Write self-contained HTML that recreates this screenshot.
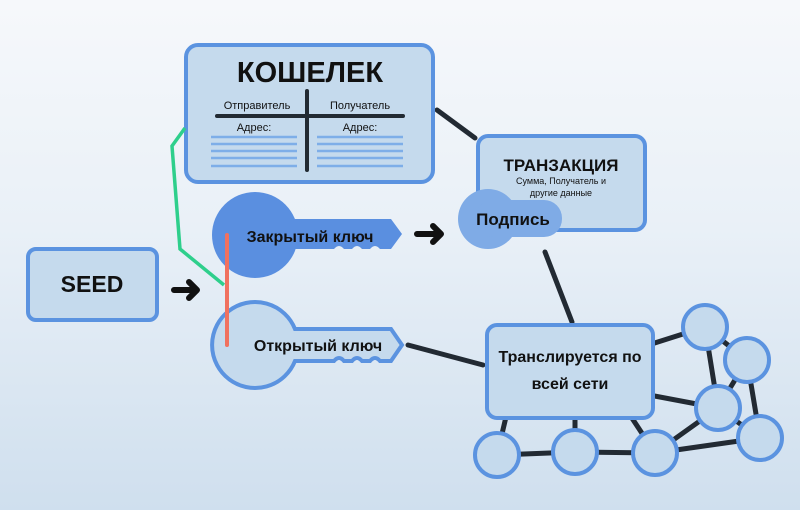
<!DOCTYPE html>
<html><head><meta charset="utf-8"><style>
html,body{margin:0;padding:0;width:800px;height:510px;overflow:hidden}
body{background:linear-gradient(#f6f8fb 0%,#e9f0f7 45%,#cfdfee 100%)}
svg text{font-family:"Liberation Sans","Noto Sans CJK SC",sans-serif;fill:#111}
</style></head><body>
<svg width="800" height="510" viewBox="0 0 800 510" xmlns="http://www.w3.org/2000/svg">
<g stroke="#222a33" stroke-width="5" stroke-linecap="round">
<line x1="437" y1="110" x2="475" y2="138"/>
<line x1="545" y1="252" x2="572" y2="322"/>
<line x1="408" y1="345" x2="483" y2="365"/>
<line x1="570" y1="370" x2="705" y2="327"/>
<line x1="570" y1="380" x2="718" y2="408"/>
<line x1="705" y1="327" x2="718" y2="408"/>
<line x1="705" y1="327" x2="747" y2="360"/>
<line x1="747" y1="360" x2="718" y2="408"/>
<line x1="747" y1="360" x2="760" y2="438"/>
<line x1="718" y1="408" x2="760" y2="438"/>
<line x1="718" y1="408" x2="655" y2="453"/>
<line x1="655" y1="453" x2="760" y2="438"/>
<line x1="497" y1="455" x2="575" y2="452"/>
<line x1="575" y1="452" x2="655" y2="453"/>
<line x1="510" y1="400" x2="497" y2="455"/>
<line x1="575" y1="400" x2="575" y2="452"/>
<line x1="620" y1="400" x2="655" y2="453"/>
</g>
<g fill="#c5daed" stroke="#5b93e0" stroke-width="4">
<circle cx="705" cy="327" r="22"/><circle cx="747" cy="360" r="22"/>
<circle cx="718" cy="408" r="22"/><circle cx="760" cy="438" r="22"/>
<circle cx="497" cy="455" r="22"/><circle cx="575" cy="452" r="22"/>
<circle cx="655" cy="453" r="22"/>
<rect x="487" y="325" width="166" height="93" rx="10"/>
<rect x="186" y="45" width="247" height="137" rx="12"/>
<rect x="478" y="136" width="167" height="94" rx="10"/>
<rect x="28" y="249" width="129" height="71" rx="8"/>
</g>
<text x="570" y="362" font-size="16" font-weight="bold" text-anchor="middle">Транслируется по</text>
<text x="570" y="389" font-size="16" font-weight="bold" text-anchor="middle">всей сети</text>
<text x="92" y="292" font-size="23" font-weight="bold" text-anchor="middle">SEED</text>
<text x="310" y="82" font-size="29" font-weight="bold" text-anchor="middle">КОШЕЛЕК</text>
<g stroke="#222a33" stroke-width="4" stroke-linecap="round">
<line x1="217" y1="116" x2="403" y2="116"/><line x1="307" y1="91" x2="307" y2="170"/>
</g>
<text x="257" y="109" font-size="11" text-anchor="middle">Отправитель</text>
<text x="360" y="109" font-size="11" text-anchor="middle">Получатель</text>
<text x="254" y="131" font-size="11" text-anchor="middle">Адрес:</text>
<text x="360" y="131" font-size="11" text-anchor="middle">Адрес:</text>
<g stroke="#7eaee8" stroke-width="2.5">
<path d="M211 137H297M211 144H297M211 151H297M211 158H297M211 166H297M317 137H403M317 144H403M317 151H403M317 158H403M317 166H403"/>
</g>
<text x="561" y="171" font-size="17" font-weight="bold" text-anchor="middle">ТРАНЗАКЦИЯ</text>
<text x="561" y="184" font-size="9" text-anchor="middle">Сумма, Получатель и</text>
<text x="561" y="196" font-size="9" text-anchor="middle">другие данные</text>
<g fill="#7fabe6">
<circle cx="488" cy="219" r="30"/>
<rect x="475" y="200" width="87" height="37" rx="18"/>
</g>
<text x="513" y="225" font-size="17" font-weight="bold" text-anchor="middle">Подпись</text>
<polyline points="185,128 172,146 180,249 224,285" fill="none" stroke="#2ecf8c" stroke-width="3.5"/>
<g fill="#5a8fe0">
<circle cx="255" cy="235" r="43"/>
<path d="M270 219H391L402 234L391 249H380q-5 -6 -10 0h-8q-5 -6 -10 0h-8q-5 -6 -10 0H270Z"/>
</g>
<text x="310" y="242" font-size="16" font-weight="bold" text-anchor="middle">Закрытый ключ</text>
<path d="M295 329H391L402 345L391 361H380q-5 -6 -10 0h-8q-5 -6 -10 0h-8q-5 -6 -10 0H295 A43 43 0 1 1 295 329Z" fill="#c5daed" stroke="#5b93e0" stroke-width="4"/>
<text x="318" y="351" font-size="16" font-weight="bold" text-anchor="middle">Открытый ключ</text>
<line x1="227" y1="235" x2="227" y2="345" stroke="#f0715f" stroke-width="4" stroke-linecap="round"/>
<g fill="none" stroke="#111" stroke-width="6" stroke-linecap="round" stroke-linejoin="round">
<path d="M174 290H197M189 282L197 290L189 298"/>
<path d="M417 234H441M433 226L441 234L433 242"/>
</g>
</svg>
</body></html>
